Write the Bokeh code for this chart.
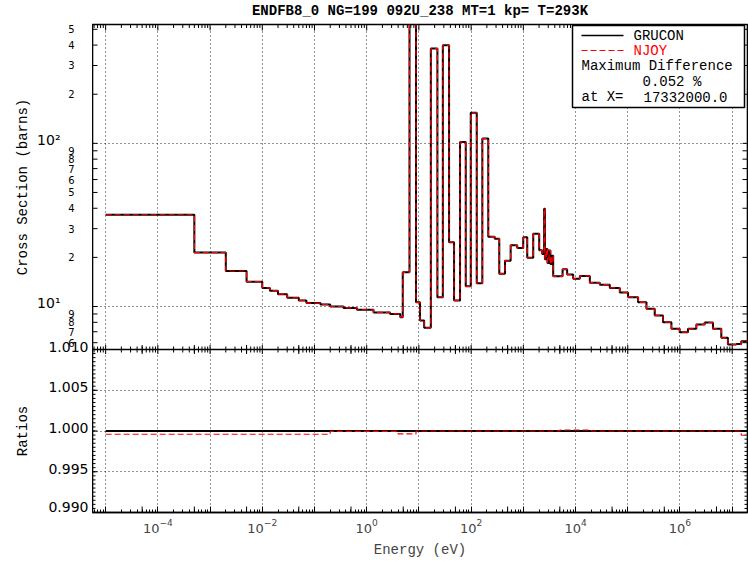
import math
from bokeh.plotting import figure
from bokeh.layouts import column, row
from bokeh.models import (Range1d, LinearScale, FixedTicker, Span, Label,
                          BoxAnnotation, Grid, PolyAnnotation)
from bokeh.core.properties import value
from bokeh.embed import file_html
from bokeh.resources import INLINE

# ---------------- data ----------------
title_text = "ENDFB8_0 NG=199 092U_238 MT=1 kp= T=293K"
legend_names = ["GRUCON", "NJOY"]
max_diff_title = "Maximum Difference"
max_diff_text = "0.052 %"
max_diff_at_label = "at X="
max_diff_at_value = "17332000.0"
y_title_top = "Cross Section (barns)"
y_title_bottom = "Ratios"
x_title = "Energy (eV)"

group_edges_ev = [1e-5, 5e-4, 2e-3, 5e-3, 1e-2, 1.4e-2, 2e-2, 3e-2, 5e-2, 7e-2,
                  0.13, 0.2, 0.36, 0.65, 1.35, 2.8, 4.4, 4.9, 6.6, 8.8,
                  10.5, 12.6, 16.9, 22.6, 28.7, 37.8, 47.1, 61.3, 78.8, 98.3,
                  128, 164, 213, 283, 346, 445, 571, 764, 995, 1188,
                  1547, 2014, 2298, 2500, 2588, 2750, 2900, 3100, 3300, 3500,
                  3731, 5640, 6900, 9000, 12080, 18750, 29150, 45290, 70360, 101400,
                  157500, 228000, 328300, 473200, 685300, 986500, 1.42e6, 2.06e6, 2.97e6, 4.28e6,
                  6.19e6, 8.28e6, 1.2e7, 1.49e7, 1.964e7]
grucon_xs_barns = [36.5, 21.4, 16.5, 14.2, 13.0, 12.5, 11.9, 11.3, 10.9, 10.5,
                   10.3, 10.0, 9.8, 9.55, 9.2, 9.0, 8.6, 16.2, 600.0, 10.6,
                   8.2, 7.4, 381.0, 11.4, 399.0, 24.8, 10.9, 102.0, 13.3, 154.0,
                   13.9, 107.0, 26.8, 26.0, 15.9, 19.1, 23.7, 22.8, 26.6, 19.9,
                   27.9, 22.1, 21.0, 39.7, 19.5, 22.5, 18.5, 22.0, 18.2, 20.5,
                   15.3, 16.9, 15.7, 14.8, 15.4, 14.0, 13.6, 13.0, 12.2, 11.4,
                   10.6, 9.68, 8.81, 8.02, 7.3, 6.96, 7.3, 7.76, 7.98, 7.3,
                   6.43, 5.85, 5.88, 6.12]
# NJOY coincides with GRUCON at the resolution of the picture
njoy_xs_barns = list(grucon_xs_barns)

ratio_edges_ev = [1e-5, 0.2, 4.0, 8.8, 5.0e3, 2.0e4, 1.49e7, 1.964e7]
ratio_njoy = [0.99960, 0.99995, 0.99965, 1.00000, 1.00012, 1.00000, 0.99948]
ratio_ref_edges_ev = [1e-5, 1.964e7]
ratio_grucon = [1.0]

x_label_exponents = [-4, -2, 0, 2, 4, 6]
xs_decade_ticks = [10.0, 100.0]
xs_decade_labels = ["10\u00b9", "10\u00b2"]
xs_minor_ticks = [6.0, 7.0, 8.0, 9.0, 20.0, 30.0, 40.0, 50.0, 60.0, 70.0, 80.0, 90.0,
                  200.0, 300.0, 400.0, 500.0]
xs_minor_labels = ["6", "7", "8", "9", "2", "3", "4", "5", "6", "7", "8", "9",
                   "2", "3", "4", "5"]
ratio_ticks = [0.990, 0.995, 1.000, 1.005, 1.010]
ratio_labels = ["0.990", "0.995", "1.000", "1.005", "1.010"]
ratio_grid = [0.995, 1.000, 1.005]

# ---------------- layout ----------------
W, H = 748, 565
FL, FT, FR, FB = 92, 24, 747, 512        # frame edges in page pixels
SEP = 349                                  # panel separator
X_MIN, X_MAX = 5.6e-6, 1.964e7
XS_TOP, XS_SEP = 535.0, 5.45
R_LO, R_HI = 0.990, 1.010

top_h = SEP - FT
bot_h = FB - SEP
l_top, l_sep = math.log10(XS_TOP), math.log10(XS_SEP)
dec_per_px = (l_top - l_sep) / top_h
ratio_per_px = (R_HI - R_LO) / bot_h
XS_LO = 10 ** (l_sep - bot_h * dec_per_px)
R_TOP = R_HI + top_h * ratio_per_px

lx0, lx1 = math.log10(X_MIN), math.log10(X_MAX)
ly0, ly1 = math.log10(XS_LO), l_top


def x_at(px):
    return 10 ** (lx0 + (px - FL) / (FR - FL) * (lx1 - lx0))


def y_at(py):
    return 10 ** (ly1 - (py - FT) / (FB - FT) * (ly1 - ly0))


TICK_FONT = "DejaVu Sans"
MONO = "Liberation Mono"
BLACK = "black"

y_range = Range1d(XS_LO, XS_TOP)
ratio_range = Range1d(R_LO, R_TOP)

# ---------- title strip ----------
pt = figure(width=W, height=FT - 1, x_range=Range1d(0, W), y_range=Range1d(0, FT - 1),
            output_backend="svg", toolbar_location=None,
            x_axis_location=None, y_axis_location=None,
            min_border_left=0, min_border_right=0, min_border_top=0, min_border_bottom=0)
pt.outline_line_color = None
pt.grid.visible = False
pt.text(x=[FL + (FR - FL) / 2], y=[(FT - 1) / 2 + 1], text=[title_text],
        text_align="center", text_baseline="middle", text_font=value(MONO),
        text_font_size=value("14px"), text_font_style=value("bold"), text_color=BLACK)

# ---------- left label strip (shares the y ranges of the plot) ----------
pl = figure(width=FL, height=H - FT + 1, x_range=Range1d(0, FL), y_range=y_range,
            y_axis_type="log", output_backend="svg", toolbar_location=None,
            x_axis_location=None, y_axis_location=None,
            min_border_left=0, min_border_right=0, min_border_top=1,
            min_border_bottom=H - FB)
pl.extra_y_ranges = {"ratio": ratio_range}
pl.extra_y_scales = {"ratio": LinearScale()}
pl.outline_line_color = None
pl.grid.visible = False
pl.text(x=[74] * len(xs_minor_ticks), y=xs_minor_ticks, text=xs_minor_labels,
        text_align="right", text_baseline="middle", text_font=value(TICK_FONT),
        text_font_size=value("10px"), text_color=BLACK)
pl.text(x=[60] * len(xs_decade_ticks), y=xs_decade_ticks, text=xs_decade_labels,
        y_offset=-3, text_align="right", text_baseline="middle", text_font=value(TICK_FONT),
        text_font_size=value("14px"), text_color=BLACK)
pl.text(x=[88] * (len(ratio_ticks) - 1), y=ratio_ticks[1:], text=ratio_labels[1:],
        y_range_name="ratio", y_offset=-3, text_align="right", text_baseline="middle",
        text_font=value(TICK_FONT), text_font_size=value("14px"), text_color=BLACK)
pl.text(x=[88], y=ratio_ticks[:1], text=ratio_labels[:1],
        y_range_name="ratio", y_offset=-6, text_align="right", text_baseline="middle",
        text_font=value(TICK_FONT), text_font_size=value("14px"), text_color=BLACK)
pl.text(x=[22], y=[math.sqrt(XS_TOP * XS_SEP)], text=[y_title_top], angle=math.pi / 2,
        text_align="center", text_baseline="middle", text_font=value(MONO),
        text_font_size=value("14px"), text_color=BLACK)
pl.text(x=[22], y=[1.0], text=[y_title_bottom], angle=math.pi / 2, y_range_name="ratio",
        text_align="center", text_baseline="middle", text_font=value(MONO),
        text_font_size=value("14px"), text_color=BLACK)

# ---------- main plot ----------
p = figure(width=W - FL, height=H - FT + 1, x_axis_type="log", y_axis_type="log",
           x_range=Range1d(X_MIN, X_MAX), y_range=y_range,
           output_backend="svg", toolbar_location=None, y_axis_location=None,
           min_border_left=0, min_border_right=W - FR,
           min_border_top=1, min_border_bottom=H - FB)
p.extra_y_ranges = {"ratio": ratio_range}
p.extra_y_scales = {"ratio": LinearScale()}
p.background_fill_color = "white"
p.border_fill_color = "white"
p.outline_line_color = BLACK
p.outline_line_width = 1.6

x_decades = [10.0 ** e for e in range(-5, 8)]
x_minor = [m * 10.0 ** e for e in range(-6, 8) for m in range(2, 10)
           if X_MIN <= m * 10.0 ** e <= X_MAX]
x_fives = [5 * 10.0 ** e for e in range(-6, 8) if X_MIN <= 5 * 10.0 ** e <= X_MAX]
xa = p.xaxis[0]
xa.ticker = FixedTicker(ticks=x_decades, minor_ticks=x_minor)
xa.major_label_overrides = {t: "" for t in x_decades
                            if round(math.log10(t)) not in x_label_exponents}
xa.major_tick_in = 6
xa.major_tick_out = 0
xa.minor_tick_in = 3
xa.minor_tick_out = 0
xa.axis_line_width = 1.6
xa.major_label_text_font = TICK_FONT
xa.major_label_text_font_size = "13px"
xa.major_label_standoff = 6
xa.axis_label = x_title
xa.axis_label_text_font = MONO
xa.axis_label_text_font_size = "14px"
xa.axis_label_text_font_style = "normal"
xa.axis_label_standoff = 6

# grids
for g in (p.xgrid[0], p.ygrid[0]):
    g.grid_line_color = BLACK
    g.grid_line_dash = "1 3"
    g.grid_line_alpha = 0.85
p.xgrid[0].ticker = FixedTicker(ticks=x_decades)
p.ygrid[0].ticker = FixedTicker(ticks=xs_decade_ticks)
rg = Grid(dimension=1, y_range_name="ratio", ticker=FixedTicker(ticks=ratio_grid),
          grid_line_color=BLACK, grid_line_dash="1 3", grid_line_alpha=0.85)
p.add_layout(rg)

# panel separator
p.add_layout(Span(location=XS_SEP, dimension="width", line_color=BLACK, line_width=1.6))


def tick_marks(xs, ys, size, vertical=True, yr="default"):
    p.scatter(xs, ys, marker="dash", size=size, angle=(math.pi / 2 if vertical else 0),
              line_color=BLACK, line_width=1, y_range_name=yr)


# tick marks on frame edges (half of each mark is clipped -> inward ticks)
tick_marks(x_decades, [XS_TOP] * len(x_decades), 12)
tick_marks(x_minor, [XS_TOP] * len(x_minor), 7)
tick_marks(x_decades + x_fives, [XS_SEP] * (len(x_decades) + len(x_fives)), 9)
tick_marks(x_minor, [XS_SEP] * len(x_minor), 6)
tick_marks(x_fives, [R_LO] * len(x_fives), 12, yr="ratio")
yt = xs_minor_ticks + xs_decade_ticks
rmin = [R_LO + i * 0.0005 for i in range(41)]
for xedge in (X_MIN, X_MAX):
    tick_marks([xedge] * len(yt), yt, 10, vertical=False)
    tick_marks([xedge] * len(ratio_ticks), ratio_ticks, 10, vertical=False, yr="ratio")
    tick_marks([xedge] * len(rmin), rmin, 6, vertical=False, yr="ratio")

# data
p.step(x=group_edges_ev, y=grucon_xs_barns + [grucon_xs_barns[-1]], mode="after",
       line_color=BLACK, line_width=2)
p.step(x=group_edges_ev, y=njoy_xs_barns + [njoy_xs_barns[-1]], mode="after",
       line_color="red", line_width=1.2, line_dash="6 3")
p.step(x=ratio_ref_edges_ev, y=ratio_grucon + [ratio_grucon[-1]], mode="after",
       line_color=BLACK, line_width=2, y_range_name="ratio")
p.step(x=ratio_edges_ev, y=ratio_njoy + [ratio_njoy[-1]], mode="after",
       line_color="red", line_width=1.2, line_dash="6 3", y_range_name="ratio")

# legend box
p.add_layout(BoxAnnotation(left=x_at(572), right=x_at(744), top=y_at(25), bottom=y_at(107),
                           fill_color="white", fill_alpha=1.0,
                           line_color=BLACK, line_alpha=1.0, line_width=1.5))
p.add_layout(PolyAnnotation(xs=[x_at(581), x_at(623)], ys=[y_at(35), y_at(35)],
                            fill_alpha=0, line_color=BLACK, line_alpha=1.0, line_width=1.5))
p.add_layout(PolyAnnotation(xs=[x_at(581), x_at(623)], ys=[y_at(50), y_at(50)],
                            fill_alpha=0, line_color="red", line_alpha=1.0, line_width=1.2,
                            line_dash="6 3"))
legend_rows = [
    (633, 35, legend_names[0], BLACK),
    (633, 50, legend_names[1], "red"),
    (581, 65, max_diff_title, BLACK),
    (642, 81, max_diff_text, BLACK),
    (581, 96, max_diff_at_label, BLACK),
    (643, 96, max_diff_at_value, BLACK),
]
for px, py, txt, col in legend_rows:
    p.add_layout(Label(x=x_at(px), y=y_at(py), text=txt, text_color=col,
                       text_align="left", text_baseline="middle",
                       text_font=MONO, text_font_size="14px"))

layout = column(pt, row(pl, p))
open("out.html", "w").write(file_html(layout, INLINE))
